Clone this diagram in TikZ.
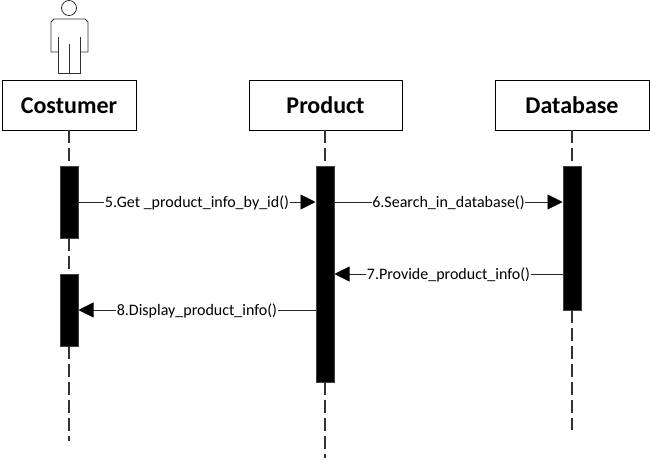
\documentclass[tikz,border=0pt]{standalone}
\usepackage{fontspec}
\setmainfont{Carlito}
\usetikzlibrary{arrows.meta}
\tikzset{
  objbox/.style={draw=black,line width=0.8pt,fill=white,minimum height=50pt,inner sep=0pt,text height=17pt,text depth=1pt,font=\fontsize{24}{28}\selectfont\bfseries},
  actbar/.style={draw=black!75,line width=0.5pt,fill=black,minimum width=18.5pt,inner sep=0pt},
  lifeline/.style={draw=black!80,line width=1.1pt,dash pattern=on 13pt off 5pt},
  msg/.style={draw=black!85,line width=0.9pt,-{Triangle[length=15pt,width=15pt,color=black]},shorten >=0pt},
  msglabel/.style={fill=white,inner xsep=0.6pt,inner ysep=1pt,yshift=-0.8pt,font=\fontsize{16}{18}\selectfont},
  actorline/.style={draw=black!80,line width=0.8pt,line join=miter}
}
\begin{document}
\begin{tikzpicture}[x=1pt,y=-1pt]
\useasboundingbox (0,0) rectangle (650,459);
\fill[white] (0,0) rectangle (650,459);
% objects
\node[objbox,minimum width=134pt] (cust) at (69,105) {Costumer};
\node[objbox,minimum width=153pt] (prod) at (325.5,105) {Product};
\node[objbox,minimum width=154pt] (db) at (572,105) {Database};
% activation bars
\node[actbar,minimum height=72pt] (a1) at (69,202) {};
\node[actbar,minimum height=72pt] (a2) at (69,310) {};
\node[actbar,minimum height=216pt] (p1) at (325,274) {};
\node[actbar,minimum height=144pt] (d1) at (572,238) {};
% free ends
\coordinate (cend) at (69,441);
\coordinate (pend) at (325,458);
\coordinate (dend) at (572,430);
% lifelines
\draw[lifeline] (cust.south) -- (a1.north);
\draw[lifeline] (a1.south) -- (a2.north);
\draw[lifeline] (a2.south) -- (cend);
\draw[lifeline] (p1.north |- prod.south) -- (p1.north);
\draw[lifeline] (p1.south) -- (pend);
\draw[lifeline] (db.south) -- (d1.north);
\draw[lifeline] (d1.south) -- (dend);
% messages
\coordinate (m5) at (0,202);
\coordinate (m7) at (0,274);
\coordinate (m8) at (0,310);
\draw[msg] (a1.east |- m5) -- node[msglabel,pos=0.5] {5.Get \_product\_info\_by\_id()} (p1.west |- m5);
\draw[msg] (p1.east |- m5) -- node[msglabel,pos=0.5] {6.Search\_in\_database()} (d1.west |- m5);
\draw[msg] (d1.west |- m7) -- node[msglabel,pos=0.5] {7.Provide\_product\_info()} (p1.east |- m7);
\draw[msg] (p1.west |- m8) -- node[msglabel,pos=0.5] {8.Display\_product\_info()} (a2.east |- m8);
% actor
\node[circle,draw=black!80,line width=0.8pt,minimum size=15pt,inner sep=0pt] (head) at (69,8) {};
\draw[actorline] (58,37) -- (58,73) -- (80,73) -- (80,37);
\draw[actorline] (69,44) -- (69,73);
\draw[actorline] (58,52) -- (51,52) -- (51,22) -- (54,19) -- (85,19) -- (88,22) -- (88,52) -- (80,52);
\end{tikzpicture}
\end{document}
